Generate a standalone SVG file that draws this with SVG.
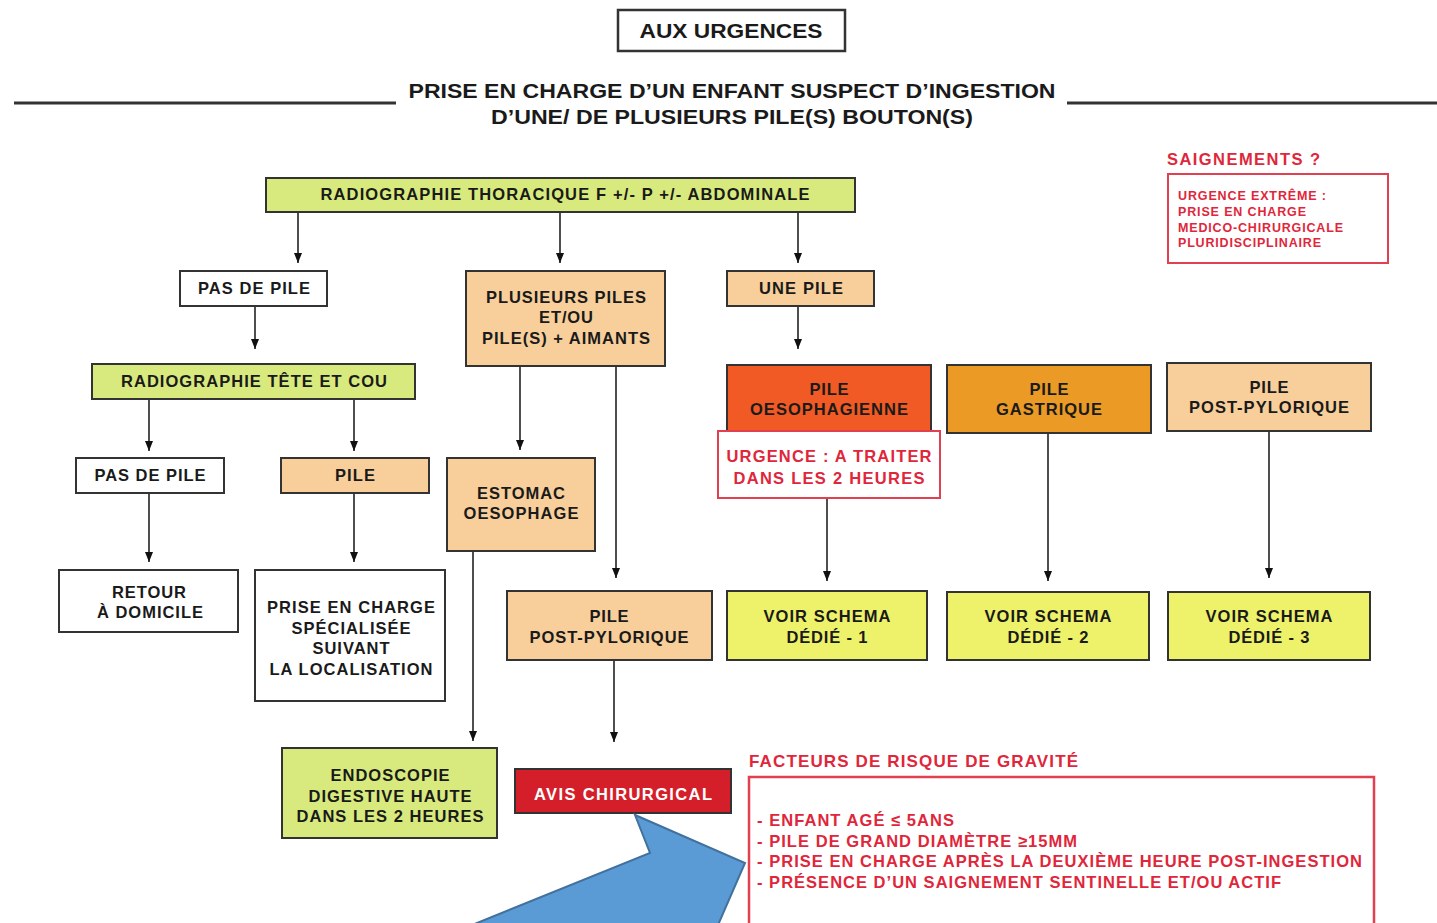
<svg xmlns="http://www.w3.org/2000/svg" width="1437" height="923" viewBox="0 0 1437 923">
<defs>
<marker id="ah" markerWidth="10" markerHeight="8" refX="10" refY="4" orient="auto" markerUnits="userSpaceOnUse" viewBox="0 0 10 8">
<path d="M0,0 L10,4 L0,8 Z" fill="#111"/>
</marker>
<style>
.b{stroke:#333;stroke-width:2}
.w{fill:#fff}
.g{fill:#d8ea7e}
.p{fill:#f8cf9b}
.y{fill:#eef26a}
.t{font-family:"Liberation Sans",Arial,sans-serif;font-weight:bold;font-size:16.5px;fill:#1a1a1a;text-anchor:middle}
.h{font-family:"Liberation Sans",Arial,sans-serif;font-weight:bold;fill:#1a1a1a;text-anchor:middle}
.r{font-family:"Liberation Sans",Arial,sans-serif;font-weight:bold;fill:#e0263b}
.c{stroke:#222;stroke-width:1.6;fill:none;marker-end:url(#ah)}
</style>
</defs>
<rect width="1437" height="923" fill="#fff"/>

<g id="header">
<rect x="618" y="10" width="227" height="41" class="w" stroke="#333" stroke-width="2.5"/>
<text class="h" x="731" y="38" font-size="21" textLength="183" lengthAdjust="spacingAndGlyphs">AUX URGENCES</text>
<line x1="14" y1="103" x2="396" y2="103" stroke="#333" stroke-width="3"/>
<line x1="1067" y1="103" x2="1437" y2="103" stroke="#333" stroke-width="3"/>
<text class="h" x="732" y="98" font-size="21" textLength="647" lengthAdjust="spacingAndGlyphs">PRISE EN CHARGE D’UN ENFANT SUSPECT D’INGESTION</text>
<text class="h" x="732" y="124" font-size="21" textLength="482" lengthAdjust="spacingAndGlyphs">D’UNE/ DE PLUSIEURS PILE(S) BOUTON(S)</text>
</g>

<g id="connectors">
<line class="c" x1="298" y1="213" x2="298" y2="263"/>
<line class="c" x1="560" y1="213" x2="560" y2="263"/>
<line class="c" x1="798" y1="213" x2="798" y2="263"/>
<line class="c" x1="255" y1="307" x2="255" y2="349"/>
<line class="c" x1="798" y1="307" x2="798" y2="349"/>
<line class="c" x1="149" y1="400" x2="149" y2="451"/>
<line class="c" x1="354" y1="400" x2="354" y2="451"/>
<line class="c" x1="149" y1="494" x2="149" y2="562"/>
<line class="c" x1="354" y1="494" x2="354" y2="562"/>
<line class="c" x1="520" y1="367" x2="520" y2="450"/>
<line class="c" x1="616" y1="367" x2="616" y2="578"/>
<line class="c" x1="473" y1="552" x2="473" y2="741"/>
<line class="c" x1="614" y1="661" x2="614" y2="742"/>
<line class="c" x1="827" y1="499" x2="827" y2="581"/>
<line class="c" x1="1048" y1="434" x2="1048" y2="581"/>
<line class="c" x1="1269" y1="432" x2="1269" y2="578"/>
</g>

<g id="n-radio-thorax">
<rect x="266" y="178" width="589" height="34" class="g b"/>
<text class="t" x="565" y="200" textLength="489">RADIOGRAPHIE THORACIQUE  F +/- P +/- ABDOMINALE</text>
</g>
<g id="n-pas-de-pile-1">
<rect x="180" y="271" width="147" height="35" class="w b"/>
<text class="t" x="254" y="294" textLength="112">PAS DE PILE</text>
</g>
<g id="n-plusieurs">
<rect x="466" y="271" width="199" height="95" class="p b"/>
<text class="t" x="566" y="303" textLength="160">PLUSIEURS PILES</text>
<text class="t" x="566" y="323" textLength="54">ET/OU</text>
<text class="t" x="566" y="344" textLength="168">PILE(S) + AIMANTS</text>
</g>
<g id="n-une-pile">
<rect x="727" y="271" width="147" height="35" class="p b"/>
<text class="t" x="801" y="294" textLength="84">UNE PILE</text>
</g>
<g id="n-radio-tete">
<rect x="92" y="364" width="323" height="35" class="g b"/>
<text class="t" x="254" y="387" textLength="266">RADIOGRAPHIE TÊTE ET COU</text>
</g>
<g id="n-pas-de-pile-2">
<rect x="76" y="458" width="148" height="35" class="w b"/>
<text class="t" x="150" y="481" textLength="111">PAS DE PILE</text>
</g>
<g id="n-pile">
<rect x="281" y="458" width="148" height="35" class="p b"/>
<text class="t" x="355" y="481" textLength="40">PILE</text>
</g>
<g id="n-estomac">
<rect x="447" y="458" width="148" height="93" class="p b"/>
<text class="t" x="521" y="499" textLength="88">ESTOMAC</text>
<text class="t" x="521" y="519" textLength="115">OESOPHAGE</text>
</g>
<g id="n-oesophagienne">
<rect x="727" y="365" width="204" height="70" fill="#f15a24" class="b"/>
<text class="t" x="829" y="395" textLength="39">PILE</text>
<text class="t" x="829" y="415" textLength="158">OESOPHAGIENNE</text>
</g>
<g id="n-urgence">
<rect x="718" y="431" width="222" height="67" fill="#fff" stroke="#e04050" stroke-width="2"/>
<text class="r" x="829" y="462" font-size="16.5" text-anchor="middle" textLength="205">URGENCE : A TRAITER</text>
<text class="r" x="829" y="484" font-size="16.5" text-anchor="middle" textLength="191">DANS LES 2 HEURES</text>
</g>
<g id="n-gastrique">
<rect x="947" y="365" width="204" height="68" fill="#eb9a26" class="b"/>
<text class="t" x="1049" y="395" textLength="39">PILE</text>
<text class="t" x="1049" y="415" textLength="106">GASTRIQUE</text>
</g>
<g id="n-postpyl-right">
<rect x="1167" y="363" width="204" height="68" class="p b"/>
<text class="t" x="1269" y="393" textLength="39">PILE</text>
<text class="t" x="1269" y="413" textLength="160">POST-PYLORIQUE</text>
</g>
<g id="n-retour">
<rect x="59" y="570" width="179" height="62" class="w b"/>
<text class="t" x="149" y="598" textLength="74">RETOUR</text>
<text class="t" x="150" y="618" textLength="106">À DOMICILE</text>
</g>
<g id="n-prise-en-charge">
<rect x="255" y="570" width="190" height="131" class="w b"/>
<text class="t" x="351" y="613" textLength="168">PRISE EN CHARGE</text>
<text class="t" x="351" y="634" textLength="119">SPÉCIALISÉE</text>
<text class="t" x="351" y="654" textLength="77">SUIVANT</text>
<text class="t" x="351" y="675" textLength="163">LA LOCALISATION</text>
</g>
<g id="n-postpyl-mid">
<rect x="507" y="591" width="205" height="69" class="p b"/>
<text class="t" x="609" y="622" textLength="39">PILE</text>
<text class="t" x="609" y="643" textLength="159">POST-PYLORIQUE</text>
</g>
<g id="n-schema-1">
<rect x="727" y="591" width="200" height="69" class="y b"/>
<text class="t" x="827" y="622" textLength="127">VOIR SCHEMA</text>
<text class="t" x="827" y="643" textLength="81">DÉDIÉ - 1</text>
</g>
<g id="n-schema-2">
<rect x="947" y="592" width="202" height="68" class="y b"/>
<text class="t" x="1048" y="622" textLength="127">VOIR SCHEMA</text>
<text class="t" x="1048" y="643" textLength="81">DÉDIÉ - 2</text>
</g>
<g id="n-schema-3">
<rect x="1168" y="592" width="202" height="68" class="y b"/>
<text class="t" x="1269" y="622" textLength="127">VOIR SCHEMA</text>
<text class="t" x="1269" y="643" textLength="81">DÉDIÉ - 3</text>
</g>
<g id="n-endoscopie">
<rect x="282" y="748" width="215" height="90" class="g b"/>
<text class="t" x="390" y="781" textLength="119">ENDOSCOPIE</text>
<text class="t" x="390" y="802" textLength="163">DIGESTIVE HAUTE</text>
<text class="t" x="390" y="822" textLength="187">DANS LES 2 HEURES</text>
</g>
<g id="n-avis">
<rect x="515" y="769" width="216" height="44" fill="#d41f2a" class="b"/>
<text class="t" x="623" y="800" style="fill:#fff" textLength="178">AVIS CHIRURGICAL</text>
</g>
<g id="n-saignements">
<text class="r" x="1167" y="165" font-size="16.5" textLength="153">SAIGNEMENTS ?</text>
<rect x="1168" y="174" width="220" height="89" fill="#fff" stroke="#e04050" stroke-width="2"/>
<text class="r" x="1178" y="200" font-size="12.5" textLength="148">URGENCE EXTRÊME :</text>
<text class="r" x="1178" y="216" font-size="12.5" textLength="128">PRISE EN CHARGE</text>
<text class="r" x="1178" y="232" font-size="12.5" textLength="165">MEDICO-CHIRURGICALE</text>
<text class="r" x="1178" y="247" font-size="12.5" textLength="143">PLURIDISCIPLINAIRE</text>
</g>
<g id="n-facteurs">
<text class="r" x="749" y="767" font-size="17" textLength="329">FACTEURS DE RISQUE DE GRAVITÉ</text>
<rect x="749" y="777" width="625" height="160" fill="#fff" stroke="#e04050" stroke-width="2.5"/>
<text class="r" x="757" y="826" font-size="16.5" textLength="197">- ENFANT AGÉ ≤ 5ANS</text>
<text class="r" x="757" y="847" font-size="16.5" textLength="320">- PILE DE GRAND DIAMÈTRE ≥15MM</text>
<text class="r" x="757" y="867" font-size="16.5" textLength="605">- PRISE EN CHARGE APRÈS LA DEUXIÈME HEURE POST-INGESTION</text>
<text class="r" x="757" y="888" font-size="16.5" textLength="524">- PRÉSENCE D’UN SAIGNEMENT SENTINELLE ET/OU ACTIF</text>
</g>
<g id="blue-arrow">
<polygon points="635,815 650,853 472,925 718,925 745,863" fill="#5b9bd5" stroke="#41719c" stroke-width="2"/>
</g>
</svg>
